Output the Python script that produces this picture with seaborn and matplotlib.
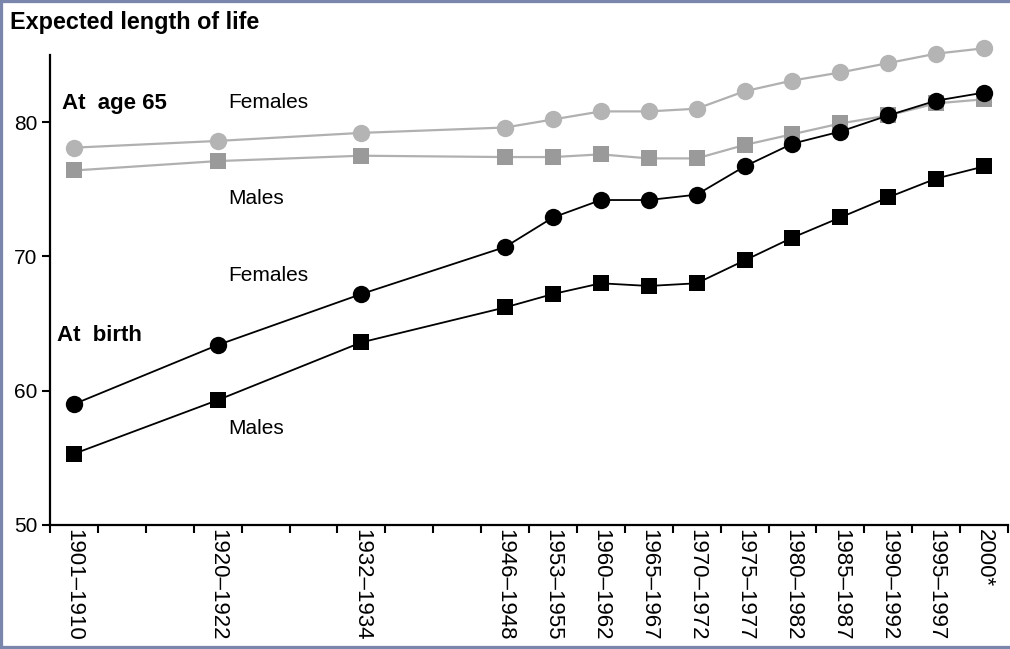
import matplotlib
matplotlib.use("Agg")
import matplotlib.pyplot as plt
import seaborn as sns
import pandas as pd
from matplotlib.lines import Line2D

periods = ["1901–1910", "1920–1922", "1932–1934", "1946–1948", "1953–1955",
           "1960–1962", "1965–1967", "1970–1972", "1975–1977", "1980–1982",
           "1985–1987", "1990–1992", "1995–1997", "2000*"]
female_65 = [78.1, 78.6, 79.2, 79.6, 80.2, 80.8, 80.8, 81.0, 82.3, 83.1, 83.7, 84.4, 85.1, 85.5]
male_65 = [76.4, 77.1, 77.5, 77.4, 77.4, 77.6, 77.3, 77.3, 78.3, 79.1, 79.9, 80.5, 81.4, 81.7]
female_birth = [59.0, 63.4, 67.2, 70.7, 72.9, 74.2, 74.2, 74.6, 76.7, 78.4, 79.3, 80.5, 81.6, 82.2]
male_birth = [55.3, 59.3, 63.6, 66.2, 67.2, 68.0, 67.8, 68.0, 69.7, 71.4, 72.9, 74.4, 75.8, 76.7]
y_ticks = [50, 60, 70, 80]

# slot layout: first four periods are three slots apart, the rest one slot
slots = [i + 2 * min(i, 3) for i in range(len(periods))]
xpos = [s + 0.5 for s in slots]

sns.set_style("white")
plt.rcParams["font.family"] = ["Liberation Sans", "DejaVu Sans"]
plt.rcParams["text.color"] = "black"
plt.rcParams["xtick.color"] = "black"
plt.rcParams["ytick.color"] = "black"
plt.rcParams["xtick.labelcolor"] = "black"
plt.rcParams["ytick.labelcolor"] = "black"

fig = plt.figure(figsize=(10.10, 6.49), dpi=100)
ax = fig.add_axes([50 / 1010, 1 - 525 / 649, 958 / 1010, (525 - 55) / 649])

def draw(vals, marker, color, lcolor, ms, lw):
    df = pd.DataFrame({"x": xpos, "y": vals})
    sns.lineplot(data=df, x="x", y="y", ax=ax, color=lcolor, lw=lw,
                 marker=marker, markersize=ms, markerfacecolor=color,
                 markeredgecolor=color, markeredgewidth=0, clip_on=False)

draw(female_65, "o", "#b4b4b4", "#b0b0b0", 12.5, 1.6)
draw(male_65, "s", "#9a9a9a", "#b0b0b0", 12, 1.6)
draw(female_birth, "o", "black", "black", 12.5, 1.3)
draw(male_birth, "s", "black", "black", 12, 1.3)

ax.set_xlim(0, 20)
ax.set_ylim(50, 85)
ax.set_xlabel("")
ax.set_ylabel("")
ax.set_yticks(y_ticks)
ax.set_yticklabels([str(t) for t in y_ticks], fontsize=15)
ax.set_xticks(xpos)
ax.set_xticklabels(periods, rotation=270, fontsize=16, va="top", ha="center")
ax.set_xticks(range(0, 21), minor=True)
ax.tick_params(axis="x", which="major", length=0, pad=3)
ax.tick_params(axis="x", which="minor", length=6, width=1.5, color="black", direction="out", bottom=True)
ax.tick_params(axis="y", which="major", length=6, width=1.5, color="black", direction="out", left=True, pad=3)
for s in ["top", "right"]:
    ax.spines[s].set_visible(False)
for s in ["left", "bottom"]:
    ax.spines[s].set_color("black")
    ax.spines[s].set_linewidth(1.6)

ax.text(0.25, 81.4, "At  age 65", fontsize=16, fontweight="bold", va="center", ha="left")
ax.text(3.72, 81.5, "Females", fontsize=15, va="center", ha="left")
ax.text(3.72, 74.3, "Males", fontsize=15, va="center", ha="left")
ax.text(3.72, 68.6, "Females", fontsize=15, va="center", ha="left")
ax.text(0.15, 64.1, "At  birth", fontsize=16, fontweight="bold", va="center", ha="left")
ax.text(3.72, 57.2, "Males", fontsize=15, va="center", ha="left")

fig.text(10 / 1010, 1 - 22 / 649, "Expected length of life", fontsize=16.8,
         fontweight="bold", va="center", ha="left")

# frame border (left, top, bottom)
bc = "#7a86ac"
for xs, ys in [([0, 0], [0, 1]), ([0, 1], [1, 1]), ([0, 1], [0, 0])]:
    fig.add_artist(Line2D(xs, ys, transform=fig.transFigure, color=bc, lw=4.5))

fig.savefig("out.png", dpi=100)
